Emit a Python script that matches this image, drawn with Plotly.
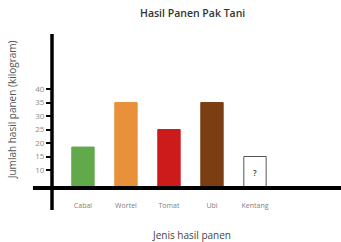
import plotly.graph_objects as go

categories = ["Cabai", "Wortel", "Tomat", "Ubi", "Kentang"]
values = [18.5, 35, 25, 35, 15]
bar_colors = ["#62a94c", "#e8913a", "#cc1b1b", "#7a3e12", "#ffffff"]
line_colors = ["#62a94c", "#e8913a", "#cc1b1b", "#7a3e12", "#555555"]
unknown_label = "?"
y_ticks = [10, 15, 20, 25, 30, 35, 40]

FONT = "Open Sans"

fig = go.Figure()
fig.add_trace(go.Bar(
    x=categories, y=values,
    width=0.52,
    marker=dict(color=bar_colors, line=dict(color=line_colors, width=1)),
    hoverinfo="x+y",
))

fig.update_layout(
    width=341, height=242,
    margin=dict(l=52, r=0, t=34, b=54),
    paper_bgcolor="white", plot_bgcolor="white",
    showlegend=False,
    xaxis=dict(
        range=[-0.72, 6.0], showgrid=False, zeroline=False, showline=False,
        ticks="", ticklabelstandoff=12,
        tickfont=dict(family=FONT, size=7, color="#808080"),
        fixedrange=True,
    ),
    yaxis=dict(
        range=[3.33, 60.4], showgrid=False, zeroline=False, showline=False,
        tickvals=y_ticks, ticks="outside", ticklen=5, tickwidth=2, tickcolor="black",
        ticklabelstandoff=0,
        tickfont=dict(family=FONT, size=8, color="#8a8a8a"),
        fixedrange=True,
    ),
    shapes=[
        dict(type="line", xref="paper", yref="paper", x0=0, x1=0, y0=-0.143, y1=1,
             line=dict(color="black", width=3.5)),
        dict(type="line", xref="paper", yref="paper", x0=-0.066, x1=1, y0=0, y1=0,
             line=dict(color="black", width=4)),
    ],
    annotations=[
        dict(text=unknown_label, x=categories[4], y=values[4], xref="x", yref="y",
             yanchor="top", yshift=-8, showarrow=False,
             font=dict(family=FONT, size=8, color="#333333", weight=600)),
        dict(text="Hasil Panen Pak Tani", xref="paper", yref="paper",
             x=0.487, y=1.136, xanchor="center", yanchor="middle", showarrow=False,
             font=dict(family=FONT, size=10.5, color="#333333", weight=600)),
        dict(text="Jenis hasil panen", xref="paper", yref="paper",
             x=0.484, y=-0.305, xanchor="center", yanchor="middle", showarrow=False,
             font=dict(family=FONT, size=10, color="#444444")),
        dict(text="Jumlah hasil panen (kilogram)", xref="paper", yref="paper",
             x=-0.138, y=0.506, xanchor="center", yanchor="middle", showarrow=False,
             textangle=-90, font=dict(family=FONT, size=10, color="#555555")),
    ],
)

fig.write_html("out.html", config={"displayModeBar": False},
               post_script="document.body.style.margin='0';")
